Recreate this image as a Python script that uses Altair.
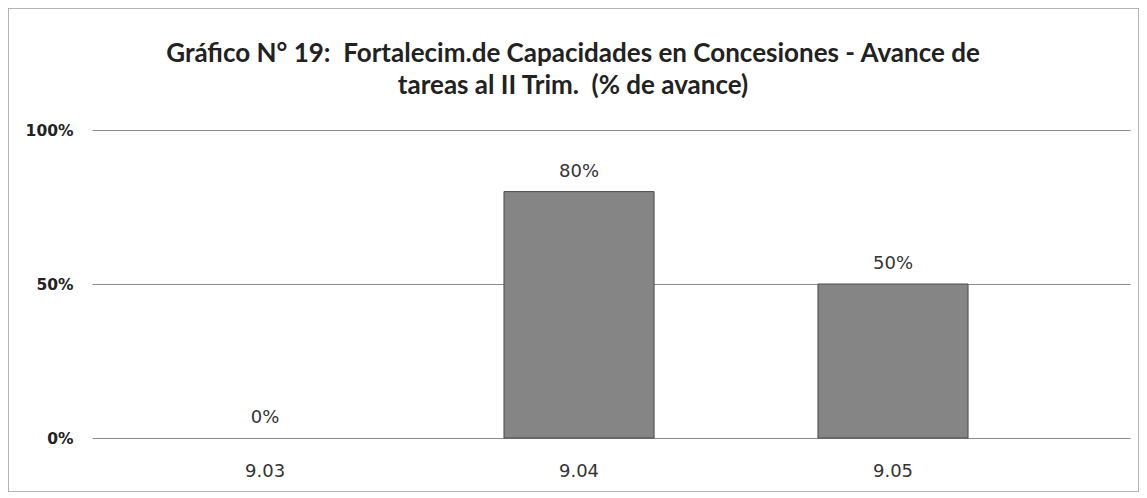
import altair as alt
import pandas as pd

categories = ["9.03", "9.04", "9.05"]
values = [0.0, 0.80, 0.50]
labels = ["0%", "80%", "50%"]

df = pd.DataFrame({"cat": categories, "val": values, "lab": labels})

W, H = 1038, 308
NB = "\u00a0"

x = alt.X("cat:N", sort=categories, title=None,
          scale=alt.Scale(paddingInner=0.522, paddingOuter=0.414, align=0.377),
          axis=alt.Axis(labelAngle=0, ticks=False, domain=False, labelPadding=38, grid=False,
                        labelBaseline="alphabetic",
                        labelFont="DejaVu Sans", labelFontSize=18, labelColor="#333"))
y = alt.Y("val:Q", title=None,
          scale=alt.Scale(domain=[0, 1]),
          axis=alt.Axis(values=[0, 0.5, 1], format=".0%", ticks=False, domain=False,
                        labelPadding=19, labelFont="DejaVu Sans", labelFontSize=15.5,
                        labelFontWeight="bold", labelColor="#222",
                        gridColor="#8a8a8a", gridWidth=1))

bars = alt.Chart(df).mark_bar(color="#858585", stroke="#4a4a4a").encode(
    x=x, y=y,
    strokeWidth=alt.condition(alt.datum.val > 0, alt.value(1), alt.value(0)))
text = alt.Chart(df).mark_text(baseline="alphabetic", dy=-15, font="DejaVu Sans", fontSize=18,
                               color="#333").encode(x=x, y=y, text="lab:N")

frame = alt.Chart(df).mark_rect(fill=None, stroke="#aaaaaa", strokeWidth=1).encode(
    x=alt.value(-84), x2=alt.value(W + 9), y=alt.value(-122), y2=alt.value(H + 54))

chart = alt.layer(frame, bars, text).properties(
    width=W, height=H,
    background="white",
    title=alt.TitleParams(
        ["Gráfico N° 19:" + NB + " Fortalecim.de Capacidades en Concesiones - Avance de",
         "tareas al II Trim." + NB + " (% de avance)"],
        font="Lato", fontSize=26, fontWeight="bold", color="#222",
        lineHeight=32, anchor="middle", dx=-38, offset=-91),
    autosize=alt.AutoSizeParams(type="none"),
    padding={"left": 84, "top": 122, "right": 9, "bottom": 54},
).configure_view(stroke="transparent", strokeWidth=0)

chart.save("out.html", embed_options={"renderer": "svg", "actions": False})
